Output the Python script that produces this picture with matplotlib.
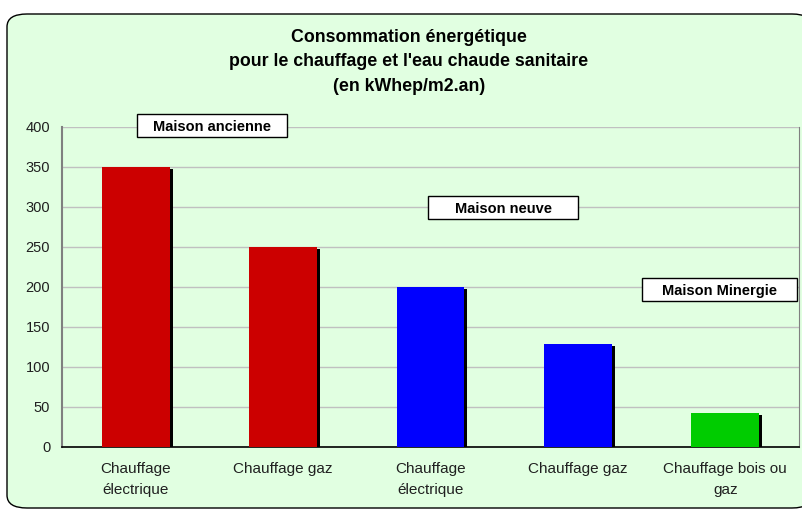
"""
Consommation energetique - bar chart with shadowed bars and group labels.
"""

import matplotlib.pyplot as plt
from matplotlib.patches import FancyBboxPatch, Rectangle

plt.rcParams["font.family"] = ["Liberation Sans", "DejaVu Sans"]

categories = ["Chauffage\nélectrique", "Chauffage gaz", "Chauffage\nélectrique",
              "Chauffage gaz", "Chauffage bois ou\ngaz"]
values = [350, 250, 200, 129, 42]
colors = ["#CC0000", "#CC0000", "#0000FF", "#0000FF", "#00CC00"]
yticks = [0, 50, 100, 150, 200, 250, 300, 350, 400]

groups = ["Maison ancienne", "Maison neuve", "Maison Minergie"]
# label boxes: (centre x, centre y, width, height) in data units
group_boxes = [(0.518, 402, 1.018, 28.75),
               (2.492, 299.5, 1.018, 28.75),
               (3.961, 197, 1.05, 28.75)]

title = ("Consommation énergétique\n"
         "pour le chauffage et l'eau chaude sanitaire\n"
         "(en kWhep/m2.an)")

BG = "#E1FFE1"


def main() -> None:
    fig = plt.figure(figsize=(8.02, 5.12), dpi=100)
    fig.patch.set_facecolor("white")

    # rounded chart frame, behind the axes
    frame = FancyBboxPatch((7 / 802, 4 / 512), 805 / 802, 494 / 512,
                           boxstyle="round,pad=0,rounding_size=0.025",
                           transform=fig.transFigure, facecolor=BG,
                           edgecolor="black", linewidth=1.0, zorder=-5)
    fig.patches.append(frame)

    ax = fig.add_axes([62 / 802, 65 / 512, 737 / 802, 320 / 512])
    ax.set_zorder(1)
    ax.set_facecolor(BG)

    x = list(range(len(values)))
    width = 0.46
    # shadows (offset to the right and slightly down)
    dx = 3 / 147.4
    shadow_vals = [v - 2 / 0.8 for v in values]
    ax.bar([i + dx for i in x], shadow_vals, width=width, color="black", zorder=2)
    ax.bar(x, values, width=width, color=colors, zorder=3)

    ax.set_xlim(-0.5, len(values) - 0.5)
    ax.set_ylim(0, 400)
    ax.set_yticks(yticks)
    ax.tick_params(axis="y", labelsize=10.5, length=0, pad=8.5, colors="#202020")
    ax.set_xticks(x)
    ax.set_xticklabels(categories, fontsize=11, linespacing=1.6)
    ax.tick_params(axis="x", length=0, pad=11, colors="#202020")
    ax.yaxis.grid(True, color="#C0C0C0", linewidth=1.0, zorder=1)
    ax.set_axisbelow(True)

    ax.spines["top"].set_visible(False)
    ax.spines["left"].set_color("#808080")
    ax.spines["left"].set_linewidth(1.5)
    ax.spines["right"].set_color("#808080")
    ax.spines["bottom"].set_color("black")
    ax.spines["bottom"].set_linewidth(1.2)

    for label, (cx, cy, bw, bh) in zip(groups, group_boxes):
        ax.add_patch(Rectangle((cx - bw / 2, cy - bh / 2), bw, bh,
                               facecolor="white", edgecolor="black",
                               linewidth=1.0, zorder=5, clip_on=False))
        ax.text(cx, cy, label, ha="center", va="center_baseline", fontsize=10.5,
                fontweight="bold", zorder=6, clip_on=False)

    fig.text(0.5 + 8 / 802, 1 - 62 / 512, title, ha="center", va="center",
             fontsize=12.8, fontweight="bold", linespacing=1.55)

    fig.savefig("out.png", dpi=100)
    plt.close(fig)


if __name__ == "__main__":
    main()
